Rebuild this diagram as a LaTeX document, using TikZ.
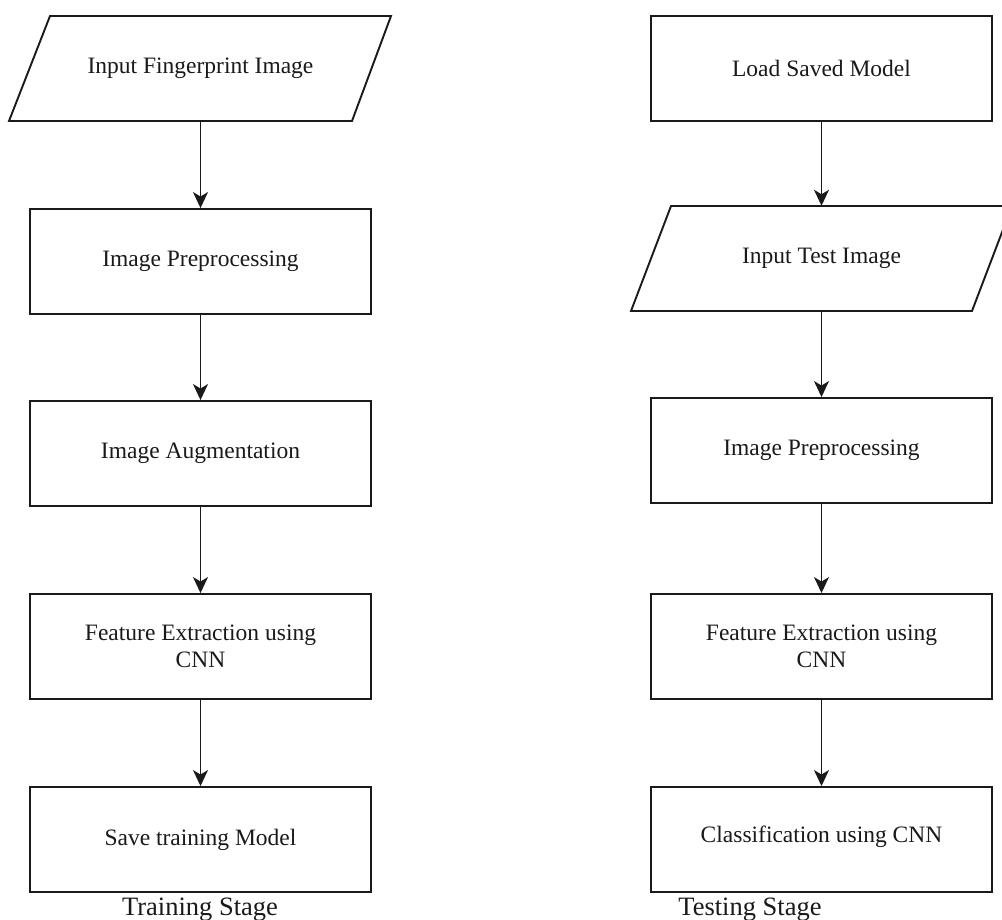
\documentclass[tikz,border=0pt]{standalone}
\usepackage{fontspec}
\setmainfont{Liberation Serif}
\usetikzlibrary{arrows.meta}
\definecolor{ink}{HTML}{1A1A1A}
\tikzset{
  boxnode/.style={draw=ink, line width=1.9pt, rectangle, minimum width=341pt, minimum height=105pt,
    inner sep=0pt, align=center, text=ink, font=\fontsize{23.5}{27}\selectfont},
  pshape/.style={draw=ink, line width=1.9pt},
  txtnode/.style={inner sep=0pt, align=center, text=ink, font=\fontsize{23.5}{27}\selectfont},
  ghost/.style={rectangle, minimum width=300pt, minimum height=105pt, inner sep=0pt, align=center,
    text=ink, font=\fontsize{23.5}{27}\selectfont},
  stagelabel/.style={inner sep=0pt, text=ink, font=\fontsize{26.5}{30}\selectfont, anchor=base},
  flow/.style={draw=ink, line width=1.8pt, -{Stealth[length=16pt,width=15pt,inset=4.5pt]}}
}
\begin{document}
\begin{tikzpicture}[x=1pt,y=-1pt]
\useasboundingbox (0,0) rectangle (1002,920);
\fill[white] (0,0) rectangle (1002,920);

% ---- Training stage ----
\draw[pshape] (9,121) -- (352,121) -- (391,16) -- (50,16) -- cycle;
\node[ghost] (inA) at (200.5,68.5) {Input Fingerprint Image};
\node[boxnode] (preA) at (200.5,261.5) {Image Preprocessing};
\node[boxnode] (augA) at (200.5,453.5) {Image Augmentation};
\node[boxnode] (feaA) at (200.5,646.5) {Feature Extraction using\\CNN};
\node[boxnode] (savA) at (200.5,839.5) {Save training Model};
\node[stagelabel] (trainlbl) at (200,915.5) {Training Stage};

\draw[flow] (inA.south) -- (preA.north);
\draw[flow] (preA.south) -- (augA.north);
\draw[flow] (augA.south) -- (feaA.north);
\draw[flow] (feaA.south) -- (savA.north);

% ---- Testing stage ----
\node[boxnode] (loadB) at (821.5,68.5) {Load Saved Model};
\draw[pshape] (631,311) -- (972,311) -- (1012,206) -- (671,206) -- cycle;
\node[ghost] (inB) at (821.5,258.5) {Input Test Image};
\node[boxnode] (preB) at (821.5,450.5) {Image Preprocessing};
\node[boxnode] (feaB) at (821.5,646.5) {Feature Extraction using\\CNN};
\node[boxnode] (clsB) at (821.5,839.5) {};
\node[txtnode, anchor=base] (clsT) at (821.5,842) {Classification using CNN};
\node[stagelabel] (testlbl) at (750,915.5) {Testing Stage};

\draw[flow] (loadB.south) -- (inB.north);
\draw[flow] (inB.south) -- (preB.north);
\draw[flow] (preB.south) -- (feaB.north);
\draw[flow] (feaB.south) -- (clsB.north);
\end{tikzpicture}
\end{document}
